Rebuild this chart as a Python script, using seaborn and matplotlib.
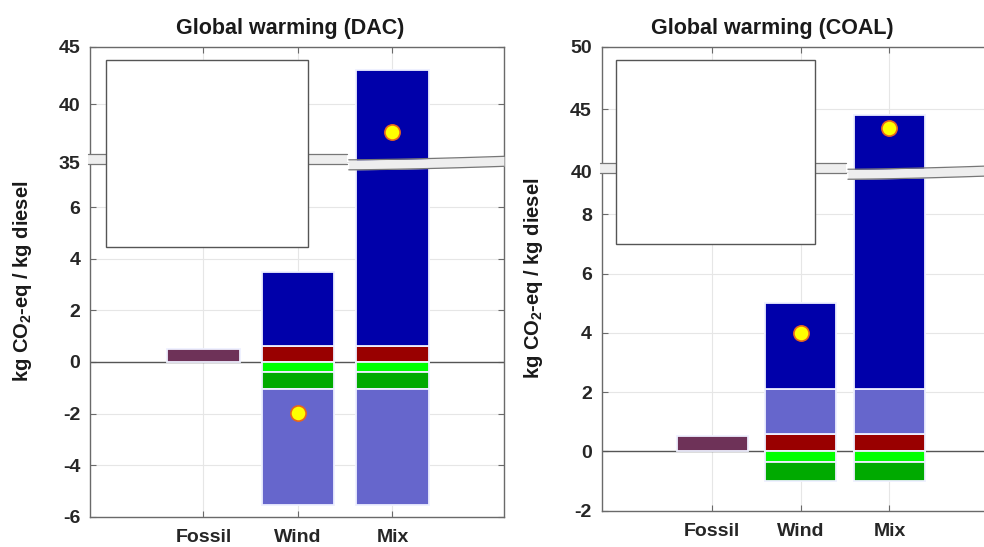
"""Global warming impact per kg diesel - DAC vs COAL, broken y axis."""
import numpy as np
import matplotlib
matplotlib.use("Agg")
import matplotlib.pyplot as plt
from matplotlib.patches import Rectangle
import seaborn as sns

# data (kg CO2-eq / kg diesel)
categories = ["Fossil", "Wind", "Mix"]

dac_fossil = [0.52, 0.0, 0.0]
dac_red = [0.0, 0.6, 0.6]
dac_darkblue = [0.0, 2.9, 42.4]
dac_lightgreen = [0.0, -0.38, -0.38]
dac_green = [0.0, -0.65, -0.65]
dac_lightpurple = [0.0, -4.5, -4.5]
dac_total = [np.nan, -1.97, 37.6]

coal_fossil = [0.52, 0.0, 0.0]
coal_red = [0.0, 0.6, 0.6]
coal_lightpurple = [0.0, 1.5, 1.5]
coal_darkblue = [0.0, 2.9, 42.4]
coal_lightgreen = [0.0, -0.36, -0.36]
coal_green = [0.0, -0.64, -0.64]
coal_total = [np.nan, 4.0, 43.5]

dac_yticks = [-6, -4, -2, 0, 2, 4, 6, 35, 40, 45]
coal_yticks = [-2, 0, 2, 4, 6, 8, 40, 45, 50]

C_FOSSIL = "#6E3258"
C_RED = "#990000"
C_DARKBLUE = "#0000AA"
C_LIGHTPURPLE = "#6666CC"
C_LIGHTGREEN = "#00FF00"
C_GREEN = "#00AA00"

sns.set_theme(style="whitegrid")
plt.rcParams["font.family"] = ["Liberation Sans", "DejaVu Sans"]
plt.rcParams["font.weight"] = "bold"
plt.rcParams["mathtext.fontset"] = "custom"
plt.rcParams["mathtext.rm"] = "Liberation Sans"
plt.rcParams["mathtext.bf"] = "Liberation Sans:bold"


def break_scale(lo, hi, t_hi, k):
    """Piecewise linear y scale: values between lo and hi squeezed into a thin band."""
    def fwd(y):
        y = np.asarray(y, float)
        mid = lo + (y - lo) * (t_hi - lo) / (hi - lo)
        return np.where(y <= lo, y, np.where(y >= hi, t_hi + (y - hi) * k, mid))

    def inv(t):
        t = np.asarray(t, float)
        mid = lo + (t - lo) * (hi - lo) / (t_hi - lo)
        return np.where(t <= lo, t, np.where(t >= t_hi, hi + (t - t_hi) / k, mid))
    return fwd, inv


def draw_stack(ax, layers, width):
    x = np.arange(len(categories))
    pos = np.zeros(len(categories))
    neg = np.zeros(len(categories))
    for values, color in layers:
        v = np.asarray(values, float)
        base = np.where(v >= 0, pos, neg)
        keep = v != 0
        ax.bar(x[keep], v[keep], width, bottom=base[keep], color=color,
               edgecolor="#eef0ff", linewidth=1.3, zorder=2)
        pos += np.clip(v, 0, None)
        neg += np.clip(v, None, 0)


def draw_break(ax, fwd, ylim, hi, fig_h_px):
    t0, t1 = fwd(ylim[0]), fwd(ylim[1])
    yb = float((fwd(hi) - t0) / (t1 - t0))
    px = 1.0 / (ax.get_position().height * fig_h_px)
    half = 5 * px
    xa = np.linspace(-0.005, 0.62, 50)
    ca = yb + 3.5 * px + 0 * xa
    xb = np.linspace(0.625, 1.0, 80)
    cb = yb - (2.5 - 3.5 * ((xb - 0.625) / 0.375) ** 1.5) * px
    for xs, cs in [(xa, ca), (xb, cb)]:
        ax.fill_between(xs, cs - half, cs + half, transform=ax.transAxes,
                        color="#eeeeee", lw=0, zorder=3, clip_on=False)
        ax.plot(xs, cs - half, transform=ax.transAxes, color="#777777", lw=0.9, zorder=3, clip_on=False)
        ax.plot(xs, cs + half, transform=ax.transAxes, color="#777777", lw=0.9, zorder=3, clip_on=False)


def style_panel(ax, title, title_x, yticks, ylim, xlim, scale, box):
    fwd, inv = scale
    ax.set_yscale("function", functions=(fwd, inv))
    ax.set_ylim(*ylim)
    ax.set_xlim(*xlim)
    ax.set_yticks(yticks)
    ax.set_yticklabels([str(t) for t in yticks])
    ax.set_xticks(np.arange(len(categories)))
    ax.set_xticklabels(categories)
    ax.minorticks_off()
    ax.set_axisbelow(True)
    ax.grid(True, color="#e6e6e6", lw=0.8)
    for s in ax.spines.values():
        s.set_color("#6a6a6a")
        s.set_linewidth(1.0)
    ax.tick_params(direction="in", length=4, width=0.8, color="#6a6a6a",
                   labelsize=14, labelcolor="#262626", top=True, right=True,
                   left=True, bottom=True)
    ax.tick_params(axis="y", pad=7)
    ax.tick_params(axis="x", pad=9)
    ax.axhline(0, color="#555555", lw=1.0, zorder=1.5)
    ax.set_title(title, fontsize=15.5, fontweight="bold", color="#1a1a1a", x=title_x, pad=9)
    ax.set_ylabel(r"kg CO$_\mathbf{2}$-eq / kg diesel", fontsize=14.5, fontweight="bold", color="#1a1a1a")
    ax.add_patch(Rectangle((box[0], box[1]), box[2], box[3], transform=ax.transAxes,
                           facecolor="white", edgecolor="#555555", lw=1.0, zorder=5))


W, H = 984, 547
fig = plt.figure(figsize=(W / 100, H / 100), dpi=100)
ax1 = fig.add_axes([90 / W, 1 - 516.7 / H, 414 / W, 470.2 / H])
ax2 = fig.add_axes([601.7 / W, 1 - 510.7 / H, 394 / W, 464 / H])

# DAC panel
dac_scale = break_scale(7.5, 35, 7.74, 0.449)
draw_stack(ax1, [(dac_fossil, C_FOSSIL), (dac_red, C_RED), (dac_darkblue, C_DARKBLUE),
                 (dac_lightgreen, C_LIGHTGREEN), (dac_green, C_GREEN),
                 (dac_lightpurple, C_LIGHTPURPLE)], 0.77)
style_panel(ax1, "Global warming (DAC)", 0.483, dac_yticks, (-6, 45), (-1.2, 3.18),
            dac_scale, (0.038, 0.574, 0.489, 0.397))
sns.scatterplot(x=np.arange(len(categories)), y=dac_total, ax=ax1, s=120,
                color="#FFFF00", edgecolor="#E8641E", linewidth=1.2, zorder=4, legend=False)
ax1.set_xlim(-1.2, 3.18)
ax1.yaxis.set_label_coords(-0.135, 0.5)
draw_break(ax1, dac_scale[0], (-6, 45), 35, H)

# COAL panel
coal_scale = break_scale(9.2, 40, 9.44, 0.422)
draw_stack(ax2, [(coal_fossil, C_FOSSIL), (coal_red, C_RED), (coal_lightpurple, C_LIGHTPURPLE),
                 (coal_darkblue, C_DARKBLUE), (coal_lightgreen, C_LIGHTGREEN),
                 (coal_green, C_GREEN)], 0.8)
style_panel(ax2, "Global warming (COAL)", 0.434, coal_yticks, (-2, 50), (-1.25, 3.2),
            coal_scale, (0.036, 0.575, 0.505, 0.396))
sns.scatterplot(x=np.arange(len(categories)), y=coal_total, ax=ax2, s=120,
                color="#FFFF00", edgecolor="#E8641E", linewidth=1.2, zorder=4, legend=False)
ax2.set_xlim(-1.25, 3.2)
ax2.yaxis.set_label_coords(-0.144, 0.5)
draw_break(ax2, coal_scale[0], (-2, 50), 40, H)

plt.savefig("out.png", dpi=100)
plt.close()
